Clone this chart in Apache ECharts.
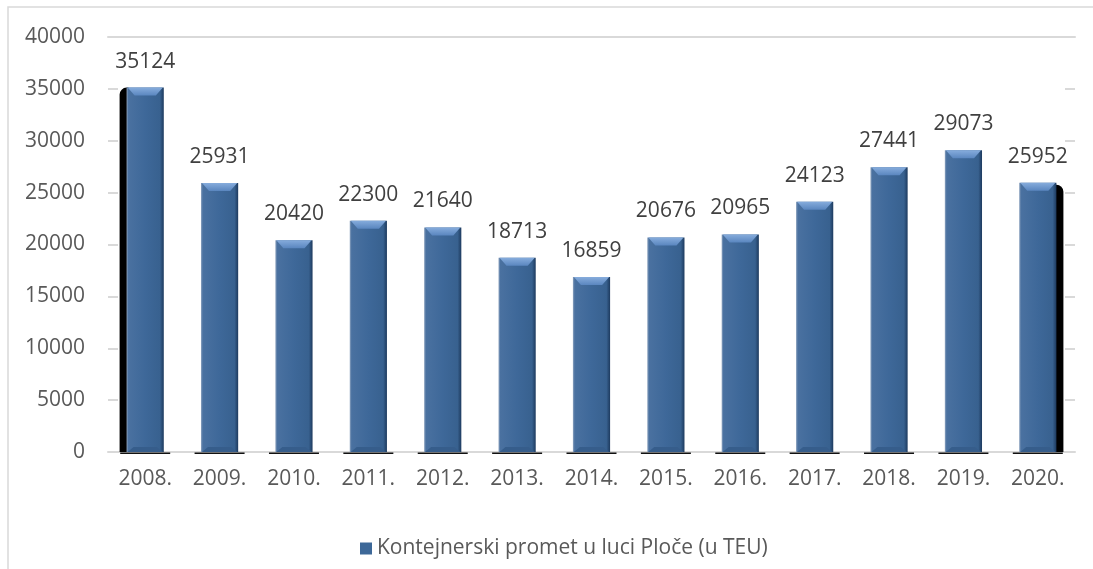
<!DOCTYPE html>
<html>
<head>
<meta charset="utf-8">
<script src="https://cdn.jsdelivr.net/npm/echarts@6/dist/echarts.min.js"></script>
<style>
  html, body { margin: 0; padding: 0; background: #fff; }
  #chart { width: 1093px; height: 569px; }
</style>
</head>
<body>
<div id="chart"></div>
<script>
// data
const years = ['2008.', '2009.', '2010.', '2011.', '2012.', '2013.', '2014.', '2015.', '2016.', '2017.', '2018.', '2019.', '2020.']
const teu = [35124, 25931, 20420, 22300, 21640, 18713, 16859, 20676, 20965, 24123, 27441, 29073, 25952]
const seriesName = 'Kontejnerski promet u luci Ploče (u TEU)'

const font = '"Open Sans", "Liberation Sans", sans-serif'
const barBlue = '#3d6898'

const chart = echarts.init(document.getElementById('chart'))

// bevelled bar, drawn via the axis scales
function renderBar(params, api) {
  const idx = api.value(0)
  const v = api.value(1)
  const top = api.coord([idx, v])
  const base = api.coord([idx, 0])
  const bw = api.size([1, 0])[0] * 0.5
  const x = top[0] - bw / 2
  const y = top[1]
  const h = base[1] - top[1]
  const kids = []

  // odd black shadows on the outer bars
  if (idx === 0) {
    kids.push({ type: 'rect', shape: { x: x - 7, y: y, width: 9, height: h, r: [7, 0, 0, 0] }, style: { fill: '#000' } })
  }
  if (idx === teu.length - 1) {
    kids.push({ type: 'rect', shape: { x: x + bw - 2, y: y + 2, width: 9, height: h - 2, r: [0, 7, 0, 0] }, style: { fill: '#000' } })
  }

  // base line under bar
  kids.push({ type: 'rect', shape: { x: top[0] - 25, y: base[1] + 0.5, width: 50, height: 1.5 }, style: { fill: '#111' } })

  // body
  kids.push({
    type: 'rect',
    shape: { x: x, y: y, width: bw, height: h },
    style: {
      fill: new echarts.graphic.LinearGradient(0, 0, 1, 0, [
        { offset: 0, color: '#8da3bf' },
        { offset: 0.05, color: '#4a71a0' },
        { offset: 0.5, color: '#3e6899' },
        { offset: 0.9, color: '#38618f' },
        { offset: 1, color: '#1d3a5e' }
      ])
    }
  })

  // top bevel
  kids.push({
    type: 'polygon',
    shape: { points: [[x + 1, y], [x + bw - 1, y], [x + bw - 8, y + 8], [x + 8, y + 8]] },
    style: {
      fill: new echarts.graphic.LinearGradient(0, 0, 0, 1, [
        { offset: 0, color: '#86acdc' },
        { offset: 1, color: '#5a86bf' }
      ])
    }
  })

  // bottom bevel
  kids.push({
    type: 'polygon',
    shape: { points: [[x + 1, base[1]], [x + bw - 1, base[1]], [x + bw - 7, base[1] - 5], [x + 7, base[1] - 5]] },
    style: { fill: '#365d8b' }
  })

  // value label
  kids.push({
    type: 'text',
    style: {
      text: String(v),
      x: top[0],
      y: y - 26,
      align: 'center',
      verticalAlign: 'middle',
      font: '21px ' + font,
      fill: '#404040'
    }
  })

  return { type: 'group', children: kids }
}

chart.setOption({
  animation: false,
  graphic: [{
    type: 'rect',
    shape: { x: 8, y: 7, width: 1300, height: 800 },
    style: { fill: 'none', stroke: '#d9d9d9', lineWidth: 1.5 },
    silent: true
  }],
  grid: { left: 108, right: 18, top: 37, bottom: 117 },
  legend: {
    data: [seriesName],
    left: 355,
    top: 533,
    icon: 'rect',
    itemWidth: 12,
    itemHeight: 12,
    itemGap: 3,
    textStyle: { fontFamily: font, fontSize: 21, color: '#595959', padding: [0, 0, 0, 0] }
  },
  xAxis: [{
    type: 'category',
    data: years,
    axisLine: { lineStyle: { color: '#d9d9d9', width: 2 } },
    axisTick: { show: false },
    axisLabel: { fontFamily: font, fontSize: 21, color: '#595959', margin: 17 }
  }, {
    type: 'category',
    position: 'top',
    data: years,
    axisLine: { onZero: false, lineStyle: { color: '#d9d9d9', width: 2 } },
    axisTick: { show: false },
    axisLabel: { show: false }
  }],
  yAxis: [{
    type: 'value',
    min: 0,
    max: 40000,
    interval: 5000,
    axisLine: { show: false },
    axisTick: { show: true, inside: true, length: 10, lineStyle: { color: '#d9d9d9', width: 2 } },
    splitLine: { show: false },
    axisLabel: { fontFamily: font, fontSize: 21, color: '#595959', margin: 23, formatter: v => String(v) }
  }, {
    type: 'value',
    position: 'right',
    min: 0,
    max: 40000,
    interval: 5000,
    axisLine: { show: false },
    axisTick: { show: true, inside: true, length: 10, lineStyle: { color: '#d9d9d9', width: 2 } },
    splitLine: { show: false },
    axisLabel: { show: false }
  }],
  series: [{
    name: seriesName,
    type: 'custom',
    xAxisIndex: 0,
    yAxisIndex: 0,
    itemStyle: { color: barBlue },
    encode: { x: 0, y: 1 },
    data: teu.map((v, i) => [i, v]),
    renderItem: renderBar
  }]
})
</script>
</body>
</html>
